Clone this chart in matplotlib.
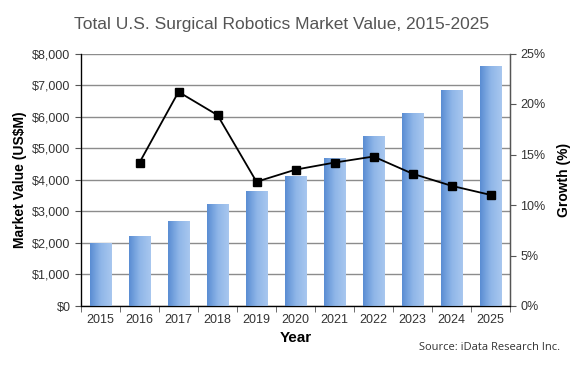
import numpy as np
import matplotlib
matplotlib.use("Agg")
import matplotlib.pyplot as plt
from matplotlib.ticker import FuncFormatter

years = ["2015", "2016", "2017", "2018", "2019", "2020", "2021", "2022", "2023", "2024", "2025"]
market_value = [1990, 2230, 2700, 3240, 3630, 4110, 4690, 5390, 6120, 6840, 7600]
growth_years = ["2016", "2017", "2018", "2019", "2020", "2021", "2022", "2023", "2024", "2025"]
growth_pct = [14.2, 21.2, 18.9, 12.3, 13.5, 14.2, 14.8, 13.1, 11.9, 11.0]

plt.rcParams['font.family'] = ['Liberation Sans', 'DejaVu Sans']

fig = plt.figure(figsize=(5.72, 3.66), dpi=100)
ax = fig.add_axes([81 / 572, 1 - 306 / 366, 429 / 572, 252.5 / 366])

x = np.arange(len(years))
bw = 0.55
bars = ax.bar(x, market_value, width=bw, color="#7aa6e0", zorder=2)

# horizontal gradient on each bar (darker left, lighter right)
grad = np.linspace(0, 1, 64).reshape(1, -1)
cmap = matplotlib.colors.LinearSegmentedColormap.from_list("bar", ["#5a8dd3", "#8fb6e8", "#a8c7ef"])
for b in bars:
    x0, y0 = b.get_x(), b.get_y()
    w, h = b.get_width(), b.get_height()
    im = ax.imshow(grad, extent=[x0, x0 + w, y0, y0 + h], aspect="auto", cmap=cmap, zorder=3)
    im.set_clip_path(b)

ax.set_xlim(-0.5, len(years) - 0.5)
ax.set_ylim(0, 8000)
ax.set_yticks(np.arange(0, 8001, 1000))
ax.yaxis.set_major_formatter(FuncFormatter(lambda v, p: "${:,.0f}".format(v)))
ax.grid(axis="y", color="#8c8c8c", linewidth=1.0, zorder=0)
ax.set_axisbelow(True)

ax.set_xticks(x)
ax.set_xticklabels(years)
ax.set_xticks(np.arange(-0.5, len(years), 1), minor=True)
ax.tick_params(axis="x", which="major", length=0, labelsize=9, pad=6, colors="#333333")
ax.tick_params(axis="x", which="minor", length=4, direction="out", color="#555555")
ax.tick_params(axis="y", length=4, direction="out", labelsize=9, colors="#333333", color="#555555")

for s in ["top"]:
    ax.spines[s].set_visible(False)
for s in ["left", "bottom", "right"]:
    ax.spines[s].set_color("#555555")
    ax.spines[s].set_linewidth(1.0)

ax.set_xlabel("Year", fontsize=11, fontweight="bold", labelpad=3)
ax.set_ylabel("Market Value (US$M)", fontsize=10, fontweight="bold", labelpad=4)

ax2 = ax.twinx()
gx = [years.index(y) for y in growth_years]
ax2.plot(gx, growth_pct, color="black", linewidth=1.3, marker="s", markersize=5.5, zorder=5)
ax2.set_ylim(0, 25)
ax2.set_yticks(np.arange(0, 26, 5))
ax2.yaxis.set_major_formatter(FuncFormatter(lambda v, p: "{:.0f}%".format(v)))
ax2.tick_params(axis="y", length=4, direction="out", labelsize=9, colors="#333333", color="#555555")
ax2.spines["top"].set_visible(False)
ax2.spines["right"].set_color("#555555")
ax2.set_ylabel("Growth (%)", fontsize=10, fontweight="bold", labelpad=8)

fig.text(282 / 572, 1 - 24 / 366, "Total U.S. Surgical Robotics Market Value, 2015-2025",
         ha="center", va="center", fontsize=12.5, color="#555555")
fig.text(560 / 572, 1 - 347 / 366, "Source: iData Research Inc.", ha="right", va="center",
         fontsize=8, color="#333333", family=["Open Sans", "DejaVu Sans"])

fig.savefig("out.png", dpi=100)
